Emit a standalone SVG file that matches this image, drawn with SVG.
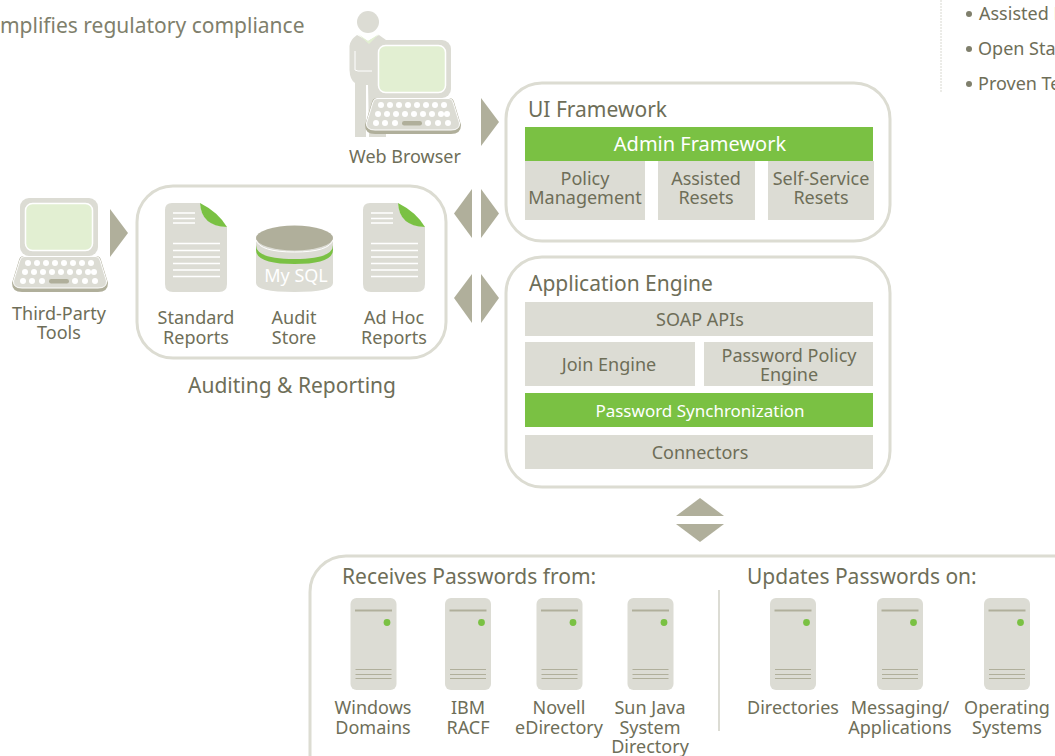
<svg xmlns="http://www.w3.org/2000/svg" xmlns:xlink="http://www.w3.org/1999/xlink" width="1055" height="756" viewBox="0 0 1055 756">
<style>
text{font-family:"Noto Sans","Open Sans","Liberation Sans",sans-serif;fill:#6e6e58;text-anchor:middle}
.s18{font-size:18px}.s16{font-size:16.5px}.s22{font-size:21px}
.st{text-anchor:start}
.w{fill:#fff}
.box{fill:#dcdcd4}.grn{fill:#7ac143}.arr{fill:#b0af9b}
.panel{fill:#fff;stroke:#dcdcd2;stroke-width:3}
.ln{stroke:#fff;stroke-width:1.6;fill:none}
</style>
<defs>
<g id="laptop">
<rect x="20" y="198" width="78" height="58" rx="9" fill="#dcdcd4"/>
<rect x="25.500" y="203.500" width="67" height="47" rx="7" fill="#e2efd2" stroke="#fff" stroke-width="1.500"/>
<path d="M24 256H96Q100 256 101 260L108 283Q108 292 98 292H22Q12 292 12 283L19 260Q20 256 24 256Z" fill="#b0af9b"/>
<path d="M24 256.500H96Q99 256.500 100 260L106.500 281Q107 288 98 288H22Q13 288 13.500 281L20 260Q21 256.500 24 256.500Z" fill="#dcdcd4" stroke="#fff" stroke-width="1"/>
<g fill="#fff">
<circle cx="28" cy="263" r="3"/><circle cx="37" cy="263" r="3"/><circle cx="46" cy="263" r="3"/><circle cx="55" cy="263" r="3"/><circle cx="64" cy="263" r="3"/><circle cx="73" cy="263" r="3"/><circle cx="82" cy="263" r="3"/><circle cx="91" cy="263" r="3"/>
<circle cx="25" cy="272" r="3"/><circle cx="34" cy="272" r="3"/><circle cx="43" cy="272" r="3"/><circle cx="52" cy="272" r="3"/><circle cx="61" cy="272" r="3"/><circle cx="70" cy="272" r="3"/><circle cx="79" cy="272" r="3"/><circle cx="88" cy="272" r="3"/><circle cx="94" cy="272" r="3"/>
<circle cx="23" cy="281" r="3"/><circle cx="32" cy="281" r="3"/><circle cx="42" cy="281" r="3"/><circle cx="75" cy="281" r="3"/><circle cx="85" cy="281" r="3"/><circle cx="95" cy="281" r="3"/>
</g>
<rect x="49" y="279" width="20" height="4.500" rx="2.200" fill="#b0af9b"/>
</g>
<g id="doc">
<path d="M172 203H200Q201 225 227 227V284Q227 292 219 292H173Q165 292 165 284V210Q165 203 172 203Z" fill="#dcdcd4"/>
<path d="M200 203Q218 212 227 227Q201 226 200 203Z" fill="#7ac143"/>
<path d="M173 213H195M173 218.500H195M173 223H195M173 243.500H220M173 250.500H220M173 257H220M173 263.500H220M173 270H220M173 276.500H220" stroke="#fff" stroke-width="1.500" fill="none"/>
</g>
<g id="server">
<rect x="0" y="0" width="46" height="92" rx="6" fill="#dcdcd4"/>
<rect x="4.500" y="11.500" width="37" height="2" fill="#b0af9b"/>
<circle cx="36.500" cy="24.500" r="3.400" fill="#7ac143"/>
<path d="M5 71.500H41M5 76.500H41M5 80.500H41" stroke="#b0af9b" stroke-width="1" fill="none"/>
</g>
</defs>
<rect width="1055" height="756" fill="#fff"/>

<g id="intro"><text class="st" x="-17" y="33" font-size="21" style="font-size:21px;fill:#7f7f6c">Simplifies regulatory compliance</text></g>
<g id="benefits">
<line x1="941" y1="0" x2="941" y2="93" stroke="#d8d8d0" stroke-width="1" stroke-dasharray="2 1"/>
<g fill="#6e6e58"><circle cx="969" cy="14" r="3" fill="#7f7f6c"/><circle cx="969" cy="49" r="3" fill="#7f7f6c"/><circle cx="969" cy="84" r="3" fill="#7f7f6c"/></g>
<text class="st s18" x="979" y="20">Assisted Resets</text>
<text class="st s18" x="978" y="55">Open Standards</text>
<text class="st s18" x="978" y="90">Proven Technology</text>
</g>

<g id="connectors" class="arr">
<path d="M481 98L499 122L481 146Z"/>
<path d="M110 209L128 233L110 257Z"/>
<path d="M472 189L454 213.500L472 238Z"/><path d="M481 189L499 213.500L481 238Z"/>
<path d="M472 274L454 298L472 323Z"/><path d="M481 274L499 298L481 323Z"/>
<path d="M700 498L676 516H724Z"/><path d="M700 542L676 524H724Z"/>
</g>

<g id="web-browser">
<circle cx="368" cy="22" r="11" fill="#dcdcd4"/>
<path d="M357 35L368 41L379 35L386 40V137H369Q369 130 368 85H366V137H355V83Q350 80 349.500 70V46Q350 40 357 35Z" fill="#dcdcd4"/>
<path d="M358 34L368 41L379 34L369 44Z" fill="#e2efd2"/>
<path d="M355 51V70L358 71H372" stroke="#fff" stroke-width="1" fill="none"/>
<use href="#laptop" x="353" y="-158"/>
<text class="s18" x="405" y="163">Web Browser</text>
</g>

<g id="third-party-tools">
<use href="#laptop"/>
<text class="s18" x="59" y="320">Third-Party</text>
<text class="s18" x="59" y="339">Tools</text>
</g>

<g id="auditing-reporting">
<rect class="panel" x="137" y="186" width="309" height="172" rx="36"/>
<use href="#doc"/>
<use href="#doc" x="198"/>
<path d="M256 238V283Q256 292 294.500 292Q333 292 333 283V238Z" fill="#dcdcd4"/>
<path d="M256 245Q256 259 294.500 259Q333 259 333 245V250Q333 264 294.500 264Q256 264 256 250Z" fill="#7ac143"/>
<ellipse cx="294.500" cy="238" rx="38.500" ry="12.500" fill="#b0af9b"/>
<path d="M256 240Q260 252 294.500 252Q329 252 333 240" fill="none" stroke="#fff" stroke-width="1"/>
<text x="296" y="282" style="fill:#fff;font-size:18px">My SQL</text>
<text class="s18" x="196" y="324">Standard</text><text class="s18" x="196" y="344">Reports</text>
<text class="s18" x="294" y="324">Audit</text><text class="s18" x="294" y="344">Store</text>
<text class="s18" x="394" y="324">Ad Hoc</text><text class="s18" x="394" y="344">Reports</text>
<text class="s22" x="292" y="393">Auditing &amp; Reporting</text>
</g>

<g id="ui-framework">
<rect class="panel" x="506" y="83" width="384" height="158" rx="36"/>
<text class="st s22" x="528" y="117">UI Framework</text>
<rect class="grn" x="525" y="127" width="348" height="34"/>
<text class="w" x="700" y="151" style="fill:#fff;font-size:20px">Admin Framework</text>
<rect class="box" x="525" y="161" width="120" height="59"/>
<rect class="box" x="658" y="161" width="97" height="59"/>
<rect class="box" x="768" y="161" width="106" height="59"/>
<text class="s18" x="585" y="185">Policy</text><text class="s18" x="585" y="204">Management</text>
<text class="s18" x="706" y="185">Assisted</text><text class="s18" x="706" y="204">Resets</text>
<text class="s18" x="821" y="185">Self-Service</text><text class="s18" x="821" y="204">Resets</text>
</g>

<g id="application-engine">
<rect class="panel" x="506" y="257" width="384" height="230" rx="36"/>
<text class="st s22" x="529" y="291">Application Engine</text>
<rect class="box" x="525" y="302" width="348" height="34"/>
<text class="s18" x="700" y="326">SOAP APIs</text>
<rect class="box" x="525" y="342" width="170" height="44"/>
<text class="s18" x="609" y="371">Join Engine</text>
<rect class="box" x="704" y="342" width="169" height="44"/>
<text class="s18" x="789" y="362">Password Policy</text><text class="s18" x="789" y="381">Engine</text>
<rect class="grn" x="525" y="393" width="348" height="34"/>
<text x="700" y="417" style="fill:#fff;font-size:17px">Password Synchronization</text>
<rect class="box" x="525" y="435" width="348" height="34"/>
<text class="s18" x="700" y="459">Connectors</text>
</g>

<g id="password-targets">
<rect class="panel" x="310" y="556" width="790" height="240" rx="36"/>
<text class="st s22" x="342" y="584">Receives Passwords from:</text>
<text class="st s22" x="747" y="584">Updates Passwords on:</text>
<line x1="719" y1="590" x2="719" y2="731" stroke="#dcdcd4" stroke-width="2"/>
<use href="#server" x="350.500" y="598"/>
<use href="#server" x="445" y="598"/>
<use href="#server" x="536.500" y="598"/>
<use href="#server" x="627.500" y="598"/>
<use href="#server" x="770" y="598"/>
<use href="#server" x="877" y="598"/>
<use href="#server" x="984" y="598"/>
<text class="s18" x="373" y="714">Windows</text><text class="s18" x="373" y="734">Domains</text>
<text class="s18" x="468" y="714">IBM</text><text class="s18" x="468" y="734">RACF</text>
<text class="s18" x="559" y="714">Novell</text><text class="s18" x="559" y="734">eDirectory</text>
<text class="s18" x="650" y="714">Sun Java</text><text class="s18" x="650" y="734">System</text><text class="s18" x="650" y="753">Directory</text>
<text class="s18" x="793" y="714">Directories</text>
<text class="s18" x="900" y="714">Messaging/</text><text class="s18" x="900" y="734">Applications</text>
<text class="s18" x="1007" y="714">Operating</text><text class="s18" x="1007" y="734">Systems</text>
</g>
</svg>
